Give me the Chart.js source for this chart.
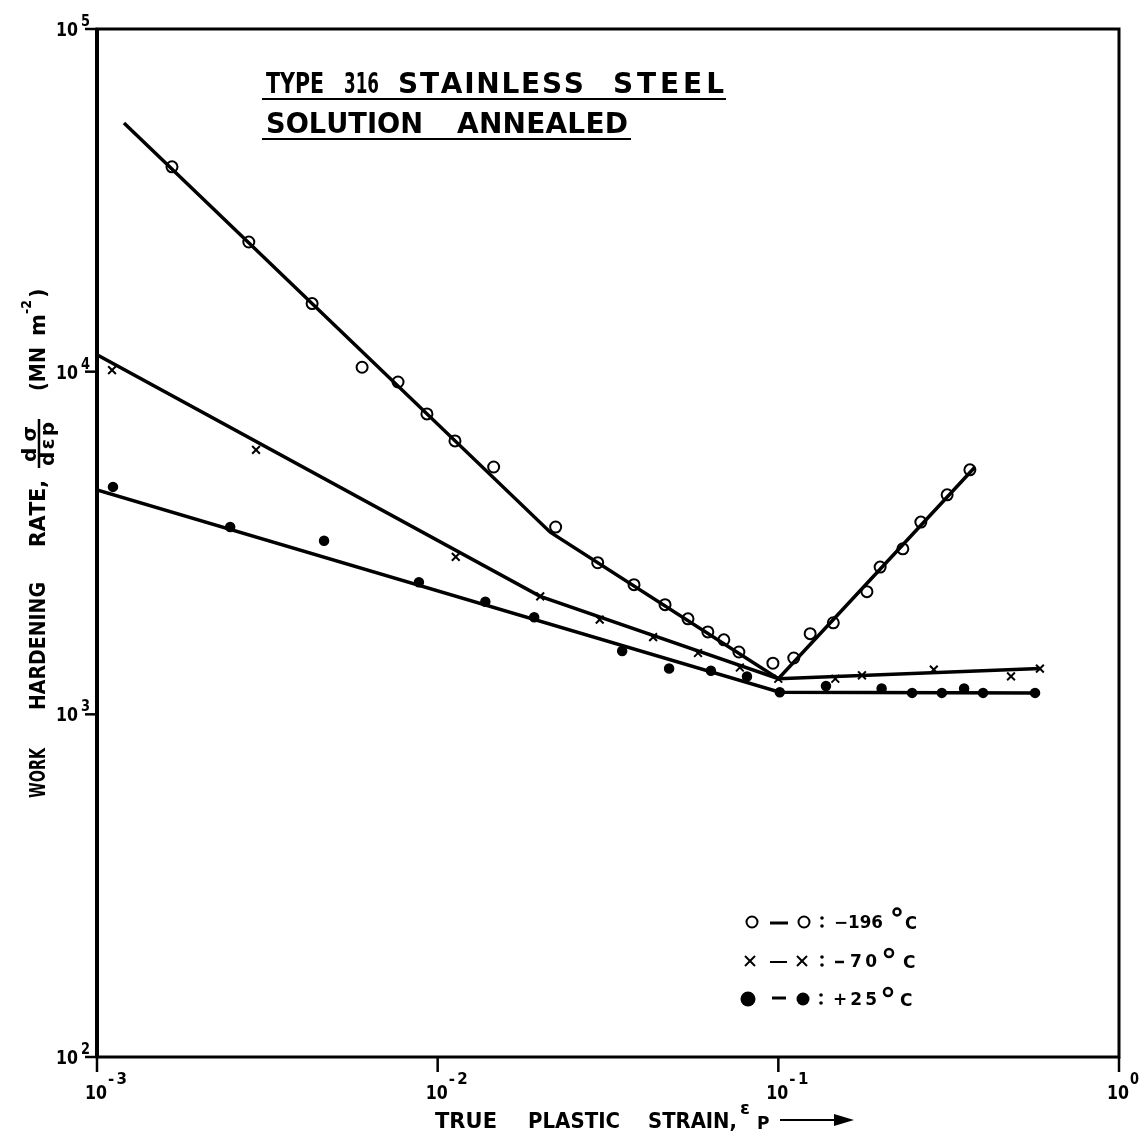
<!DOCTYPE html>
<html>
<head>
<meta charset="utf-8">
<script src="https://cdn.jsdelivr.net/npm/chart.js@4.4.1/dist/chart.umd.min.js"></script>
<style>
  html, body { margin: 0; background: #fff; }
  #wrap { width: 1145px; height: 1136px; }
</style>
</head>
<body>
<div id="wrap"><canvas id="chart"></canvas></div>
<script>
// -196 C, open circles
const strainA = [1.66e-3, 2.79e-3, 4.28e-3, 6.0e-3, 7.65e-3, 9.3e-3, 1.124e-2, 1.46e-2, 2.22e-2, 2.95e-2, 3.77e-2, 4.65e-2, 5.43e-2,
                 6.21e-2, 6.92e-2, 7.66e-2, 9.64e-2, 0.111, 0.124, 0.145, 0.182, 0.199, 0.232, 0.262, 0.313, 0.365];
const rateA = [3.96e4, 2.39e4, 1.58e4, 1.03e4, 9.33e3, 7.53e3, 6.28e3, 5.27e3, 3.52e3, 2.77e3, 2.39e3, 2.09e3, 1.90e3,
               1.74e3, 1.65e3, 1.52e3, 1.41e3, 1.46e3, 1.72e3, 1.85e3, 2.28e3, 2.69e3, 3.04e3, 3.64e3, 4.37e3, 5.17e3];
// -70 C, crosses
const strainB = [1.107e-3, 2.93e-3, 1.13e-2, 2.0e-2, 2.99e-2, 4.29e-2, 5.81e-2, 7.71e-2, 0.1, 0.147, 0.176, 0.286, 0.482, 0.586];
const rateB = [1.01e4, 5.91e3, 2.88e3, 2.21e3, 1.89e3, 1.68e3, 1.51e3, 1.37e3, 1.27e3, 1.27e3, 1.30e3, 1.35e3, 1.29e3, 1.36e3];
// +25 C, filled dots
const strainC = [1.114e-3, 2.46e-3, 4.64e-3, 8.81e-3, 1.38e-2, 1.92e-2, 3.48e-2, 4.78e-2, 6.34e-2, 8.09e-2, 0.101,
                 0.138, 0.201, 0.247, 0.302, 0.351, 0.399, 0.567];
const rateC = [4.61e3, 3.52e3, 3.21e3, 2.43e3, 2.13e3, 1.92e3, 1.53e3, 1.36e3, 1.34e3, 1.29e3, 1.16e3,
               1.21e3, 1.19e3, 1.155e3, 1.155e3, 1.19e3, 1.155e3, 1.155e3];

// hand drawn fit lines
const fitAx = [1.2e-3, 2.14e-2, 0.1, 0.378];
const fitAy = [5.32e4, 3.40e3, 1.27e3, 5.27e3];
const fitBx = [1e-3, 2.0e-2, 0.1, 0.586];
const fitBy = [1.12e4, 2.21e3, 1.27e3, 1.36e3];
const fitCx = [1e-3, 0.101, 0.567];
const fitCy = [4.52e3, 1.16e3, 1.155e3];

const xTicks = [1e-3, 1e-2, 1e-1, 1];
const xTickExp = ['-3', '-2', '-1', '0'];
const yTicks = [1e2, 1e3, 1e4, 1e5];
const yTickExp = ['2', '3', '4', '5'];

const ink = '#000';
const F = '"DejaVu Sans", sans-serif';

const pts = (xs, ys) => xs.map((x, i) => ({ x, y: ys[i] }));

function seg(ctx, x1, y1, x2, y2) {
  ctx.beginPath(); ctx.moveTo(x1, y1); ctx.lineTo(x2, y2); ctx.stroke();
}

// draw text so it spans width w (spread letters, or squeeze if too wide)
function fit(ctx, s, x, y, w) {
  const ch = [...s];
  const ws = ch.map(c => ctx.measureText(c).width);
  const tot = ws.reduce((a, b) => a + b, 0);
  const k = Math.min(1, w / tot);
  const gap = ch.length > 1 ? (w - tot * k) / (ch.length - 1) : 0;
  let cx = x;
  ch.forEach((c, i) => {
    ctx.save(); ctx.translate(cx, y); ctx.scale(k, 1); ctx.fillText(c, 0, 0); ctx.restore();
    cx += ws[i] * k + gap;
  });
}

function ring(ctx, x, y, r, lw) {
  ctx.lineWidth = lw; ctx.beginPath(); ctx.arc(x, y, r, 0, Math.PI * 2); ctx.stroke();
}
function dot(ctx, x, y, r) {
  ctx.beginPath(); ctx.arc(x, y, r, 0, Math.PI * 2); ctx.fill();
}
function cross(ctx, x, y, r) {
  ctx.lineWidth = 2; seg(ctx, x - r, y - r, x + r, y + r); seg(ctx, x - r, y + r, x + r, y - r);
}
function colon(ctx, x, y) { dot(ctx, x, y - 4, 1.8); dot(ctx, x, y + 4, 1.8); }

const paper = {
  id: 'paper',
  afterDraw(chart) {
    const { ctx, chartArea: a, scales: { x, y } } = chart;
    ctx.save();
    ctx.fillStyle = ink; ctx.strokeStyle = ink;
    ctx.textBaseline = 'alphabetic'; ctx.textAlign = 'left';

    // frame + decade ticks
    ctx.lineWidth = 3;
    ctx.strokeRect(a.left, a.top, a.right - a.left, a.bottom - a.top);
    ctx.lineWidth = 4;
    seg(ctx, a.left, a.top - 1, a.left, a.bottom + 1);
    ctx.lineWidth = 2.5;
    xTicks.forEach(v => { const px = x.getPixelForValue(v); seg(ctx, px, a.bottom, px, a.bottom + 15); });
    yTicks.forEach(v => { const py = y.getPixelForValue(v); seg(ctx, a.left - 12, py, a.left, py); });

    // tick labels 10^n
    xTicks.forEach((v, i) => {
      const px = x.getPixelForValue(v);
      ctx.font = 'bold 20px ' + F; fit(ctx, '10', px - 12, a.bottom + 42, 22);
      ctx.font = 'bold 15px ' + F; fit(ctx, xTickExp[i], px + 11, a.bottom + 27, xTickExp[i].length > 1 ? 19 : 9);
    });
    yTicks.forEach((v, i) => {
      const py = y.getPixelForValue(v);
      ctx.font = 'bold 20px ' + F; fit(ctx, '10', a.left - 41, py + 7, 22);
      ctx.font = 'bold 15px ' + F; fit(ctx, yTickExp[i], a.left - 16, py - 3, 9);
    });

    // title
    ctx.font = 'bold 28px ' + F;
    fit(ctx, 'TYPE', 266, 93, 58);
    fit(ctx, '316', 344, 93, 35);
    fit(ctx, 'STAINLESS', 398, 93, 186);
    fit(ctx, 'STEEL', 613, 93, 111);
    fit(ctx, 'SOLUTION', 266, 133, 157);
    fit(ctx, 'ANNEALED', 457, 133, 171);
    ctx.lineWidth = 2;
    seg(ctx, 262, 99, 726, 99);
    seg(ctx, 262, 139, 631, 139);

    // x axis title
    ctx.font = 'bold 21px ' + F;
    fit(ctx, 'TRUE', 435, 1128, 62);
    fit(ctx, 'PLASTIC', 528, 1128, 92);
    fit(ctx, 'STRAIN,', 648, 1128, 89);
    ctx.font = 'bold 18px ' + F;
    fit(ctx, 'ε', 740, 1114, 13);
    ctx.font = 'bold 17px ' + F;
    fit(ctx, 'P', 757, 1129, 15);
    ctx.lineWidth = 2;
    seg(ctx, 780, 1120, 838, 1120);
    ctx.beginPath(); ctx.moveTo(854, 1120); ctx.lineTo(834, 1114); ctx.lineTo(834, 1126); ctx.closePath(); ctx.fill();

    // y axis title, rotated: (u, v) -> screen (v, -u)
    ctx.save();
    ctx.rotate(-Math.PI / 2);
    ctx.font = 'bold 21px ' + F;
    fit(ctx, 'WORK', -798, 45, 50);
    fit(ctx, 'HARDENING', -710, 45, 128);
    fit(ctx, 'RATE,', -547, 45, 67);
    ctx.font = 'bold 20px ' + F;
    fit(ctx, 'dσ', -462, 36, 36);
    fit(ctx, 'dεp', -466, 54, 44);
    ctx.lineWidth = 2.5;
    seg(ctx, -468, 39, -419, 39);
    ctx.font = 'bold 21px ' + F;
    fit(ctx, '(MN', -391, 45, 44);
    fit(ctx, 'm', -336, 45, 22);
    fit(ctx, ')', -298, 45, 10);
    ctx.font = 'bold 14px ' + F;
    fit(ctx, '-2', -314, 31, 14);
    ctx.restore();

    // legend
    ctx.font = 'bold 17px ' + F;
    ring(ctx, 752, 922, 5.5, 2);
    ctx.lineWidth = 3; seg(ctx, 770, 923, 788, 923);
    ring(ctx, 804, 922, 5.5, 2);
    colon(ctx, 822, 922);
    fit(ctx, '−196', 834, 928, 49);
    ring(ctx, 897, 912, 3.5, 2.5);
    fit(ctx, 'C', 905, 929, 12);

    cross(ctx, 750, 961, 5);
    ctx.lineWidth = 2; seg(ctx, 770, 962, 787, 962);
    cross(ctx, 802, 961, 5);
    colon(ctx, 822, 961);
    ctx.lineWidth = 2.5; seg(ctx, 835, 962, 844, 962);
    fit(ctx, '70', 850, 967, 27);
    ring(ctx, 889, 953, 4, 2.5);
    fit(ctx, 'C', 903, 968, 13);

    dot(ctx, 748, 999, 7.5);
    ctx.lineWidth = 3; seg(ctx, 772, 998, 786, 998);
    dot(ctx, 803, 999, 6.5);
    colon(ctx, 821, 999);
    fit(ctx, '+25', 833, 1005, 44);
    ring(ctx, 888, 992, 4, 2.5);
    fit(ctx, 'C', 900, 1006, 13);

    ctx.restore();
  }
};

const lineStyle = { showLine: true, borderColor: ink, borderWidth: 3.5, pointRadius: 0, fill: false };

new Chart(document.getElementById('chart').getContext('2d'), {
  type: 'scatter',
  data: {
    datasets: [
      { ...lineStyle, data: pts(fitAx, fitAy) },
      { ...lineStyle, data: pts(fitBx, fitBy) },
      { ...lineStyle, data: pts(fitCx, fitCy) },
      { label: '-196 °C', data: pts(strainA, rateA), pointStyle: 'circle', pointRadius: 5.5,
        borderColor: ink, borderWidth: 2, backgroundColor: 'rgba(0,0,0,0)' },
      { label: '-70 °C', data: pts(strainB, rateB), pointStyle: 'crossRot', pointRadius: 5.5,
        borderColor: ink, borderWidth: 2 },
      { label: '+25 °C', data: pts(strainC, rateC), pointStyle: 'circle', pointRadius: 4.5,
        borderColor: ink, borderWidth: 1.5, backgroundColor: ink }
    ]
  },
  options: {
    responsive: true, maintainAspectRatio: false, animation: false,
    layout: { padding: { left: 97, top: 29, right: 26, bottom: 79 } },
    plugins: { legend: { display: false }, tooltip: { enabled: false } },
    scales: {
      x: { type: 'logarithmic', min: 1e-3, max: 1, display: false },
      y: { type: 'logarithmic', min: 1e2, max: 1e5, display: false }
    }
  },
  plugins: [paper]
});
</script>
</body>
</html>
